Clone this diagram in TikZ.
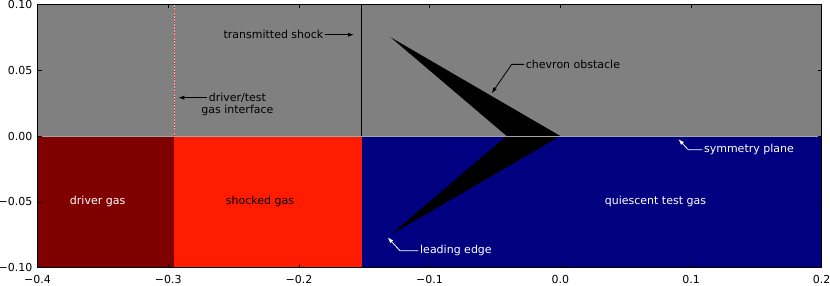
\documentclass[tikz,border=0pt]{standalone}
\usepackage{fontspec}
\setmainfont{DejaVu Sans}
\usetikzlibrary{arrows.meta,positioning}

\definecolor{plotgray}{HTML}{808080}
\definecolor{drivercol}{HTML}{800000}
\definecolor{shockedcol}{RGB}{255,28,0}
\definecolor{testcol}{HTML}{000080}
\definecolor{planecol}{RGB}{165,165,165}

\begin{document}
\begin{tikzpicture}[x=1307bp,y=1317bp,
    font=\fontsize{11bp}{13bp}\selectfont,
    lbl/.style={inner sep=1.5bp},
    ticklbl/.style={inner sep=0pt},
    pointer/.style={-{Latex[length=6bp,width=4bp]}, line width=0.8bp},
    tickmark/.style={black, line width=0.5bp}]

  % picture frame: 830 x 286 px, data origin at px (560.3,136)
  \useasboundingbox (-560.3bp,-150bp) rectangle (269.7bp,136bp);

  % ---- (1) upper half: obstacle domain (gray) ----
  \fill[plotgray] (-0.4,0) rectangle (0.2,0.1);

  % ---- (2) lower half: gas slugs ----
  \fill[drivercol]  (-0.4,-0.1)    rectangle (-0.2953,0);
  \fill[shockedcol] (-0.2953,-0.1) rectangle (-0.152,0);
  \fill[testcol]    (-0.152,-0.1)  rectangle (0.2,0);

  % ---- (3) chevron obstacle, 30 deg half angle ----
  \fill[black] (-0.1299,0.075) -- (0,0) -- (-0.1299,-0.075)
    -- (-0.041,0) -- cycle;

  % ---- (4) symmetry plane, interface, shock ----
  \draw[planecol, line width=0.6bp] (-0.4,0) -- (0.2,0);
  \draw[gray!45!white, line width=0.8bp] (-0.2953,0) -- (-0.2953,0.1);
  \draw[red, dotted, line width=0.8bp] (-0.2953,0) -- (-0.2953,0.1);
  \draw[black, line width=0.5bp] (-0.152,0) -- (-0.152,0.1);

  % ---- (5) region labels ----
  \node[lbl, white] (driver)  at (-0.354,-0.05) {driver gas};
  \node[lbl, black] (shocked) at (-0.2298,-0.05) {shocked gas};
  \node[lbl, white] (quiet)   at (0.0728,-0.05) {quiescent test gas};

  % ---- (6) annotations ----
  \node[lbl, anchor=east] (shock) at (-0.180,0.0769) {transmitted shock};
  \coordinate (shocktip) at (-0.1578,0.0769);
  \draw[pointer] (shock.east) -- (shocktip);

  \node[lbl, anchor=west] (iface) at (-0.2702,0.0291) {driver/test};
  \node[lbl, anchor=base] (iface2) at ([yshift=-12bp]iface.base) {gas interface};
  \coordinate (ifacetip) at (-0.2923,0.0291);
  \draw[pointer] (iface.west) -- (ifacetip);

  \node[lbl, anchor=west] (chev) at (-0.0276,0.0544) {chevron obstacle};
  \coordinate (chevbend) at (-0.0372,0.0544);
  \coordinate (chevtip) at (-0.0525,0.0324);
  \draw[pointer] (chev.west) -- (chevbend) -- (chevtip);

  \node[lbl, white, anchor=west] (lead) at (-0.1085,-0.0871) {leading edge};
  \coordinate (leadbend) at (-0.1227,-0.0871);
  \coordinate (leadtip) at (-0.1321,-0.0769);
  \draw[pointer, white] (lead.west) -- (leadbend) -- (leadtip);

  \node[lbl, white, anchor=west] (sym) at (0.1087,-0.0104) {symmetry plane};
  \coordinate (symbend) at (0.0979,-0.0104);
  \coordinate (symtip) at (0.0903,-0.0023);
  \draw[pointer, white] (sym.west) -- (symbend) -- (symtip);

  % ---- (7) ticks and tick labels ----
  \foreach \x/\t in {-0.4/−0.4,-0.3/−0.3,-0.2/−0.2,-0.1/−0.1,0/0.0,0.1/0.1,0.2/0.2} {
    \draw[tickmark] (\x,-0.1) -- ++(0,4bp);
    \draw[tickmark] (\x,0.1) -- ++(0,-4bp);
    \node[ticklbl, below=7bp] at (\x,-0.1) {\t};
  }
  \foreach \y/\t in {-0.1/−0.10,-0.05/−0.05,0/0.00,0.05/0.05,0.1/0.10} {
    \draw[tickmark] (-0.4,\y) -- ++(4bp,0);
    \draw[tickmark] (0.2,\y) -- ++(-4bp,0);
    \node[ticklbl, left=5bp] at (-0.4,\y) {\t};
  }

  % ---- (8) axes frame ----
  \draw[black, line width=1bp] (-0.4,-0.1) rectangle (0.2,0.1);

\end{tikzpicture}
\end{document}
